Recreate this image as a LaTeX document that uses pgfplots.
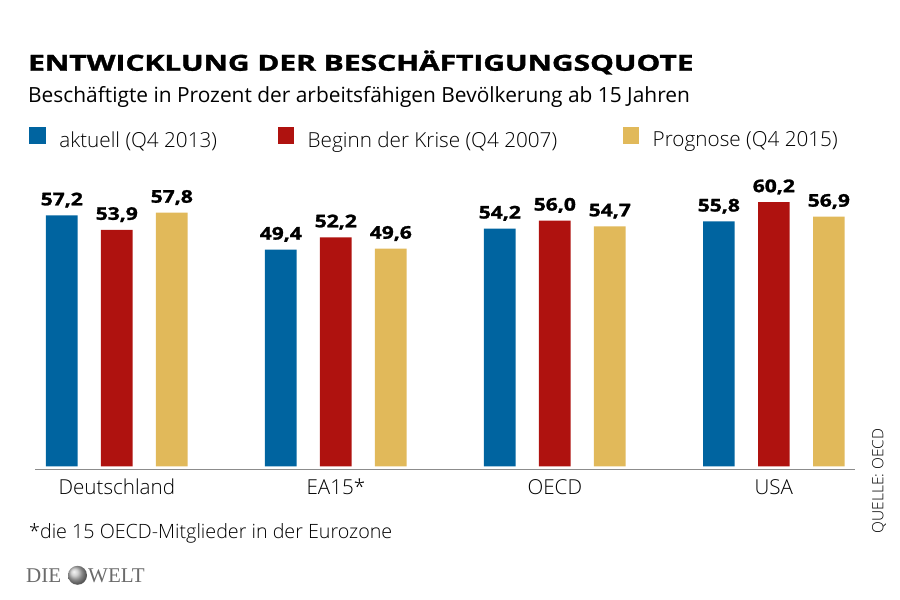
\documentclass[border=0pt]{standalone}
\usepackage{graphicx}
\usepackage{fontspec}
\setmainfont{Open Sans}
\newfontfamily\light{Open Sans Light}
\newfontfamily\heavy{Open Sans}[BoldFeatures={FakeBold=1.4}]
\newfontfamily\welt{Liberation Serif}
\usepackage{pgfplots}
\usepackage{pgfplotstable}
\pgfplotsset{compat=1.18}

\definecolor{cblue}{HTML}{0064A0}
\definecolor{cred}{HTML}{AF120F}
\definecolor{cgold}{HTML}{E1B95A}

% Beschaeftigungsquote in Prozent
\pgfplotstableread{
x y
0 57.2
1 49.4
2 54.2
3 55.8
}\aktuell
\pgfplotstableread{
x y
0 53.9
1 52.2
2 56.0
3 60.2
}\krise
\pgfplotstableread{
x y
0 57.8
1 49.6
2 54.7
3 56.9
}\prognose

\begin{document}
\begin{tikzpicture}[x=1pt,y=1pt]
\useasboundingbox (0,0) rectangle (900,600);
\begin{axis}[
  at={(35pt,130pt)}, anchor=south west,
  scale only axis, width=820pt, height=288.9pt,
  xmin=-0.3735, xmax=3.3705, ymin=-0.8, ymax=65,
  axis x line*=bottom, axis y line=none,
  x axis line style={draw=black!45, line width=1pt},
  ytick=\empty,
  xtick={0,1,2,3}, xticklabels={Deutschland,EA15*,OECD,USA},
  major tick length=0pt,
  xticklabel style={font=\light\fontsize{20.6}{22}\selectfont, anchor=base, yshift=-25pt},
  ybar, bar width=31.7pt,
  clip=false,
  nodes near coords={\scalebox{1.2}[1]{\pgfmathprintnumber[fixed,fixed zerofill,precision=1,use comma,assume math mode=true]{\pgfplotspointmeta}}},
  every node near coord/.append style={font=\heavy\bfseries\fontsize{17.5}{19}\selectfont, anchor=base, yshift=10pt, inner sep=0pt},
  legend columns=3,
  legend cell align=left,
  legend style={at={(axis description cs:-0.00695,1.1492)}, anchor=west,
    draw=none, fill=none, inner sep=0pt, outer sep=0pt, column sep=0pt,
    font=\light\fontsize{20.7}{22}\selectfont,
    nodes={inner sep=0pt}},
  legend image code/.code={\fill[#1] (0pt,-4pt) rectangle (16.7pt,12.7pt); \path (30pt,0pt);},
]
\addplot[fill=cblue, draw=none, bar shift=-55pt] table {\aktuell};
\addlegendentry{\makebox[218.4pt][l]{aktuell (Q4 2013)}}
\addplot[fill=cred, draw=none, bar shift=0pt] table {\krise};
\addlegendentry{\makebox[315pt][l]{Beginn der Krise (Q4 2007)}}
\addplot[fill=cgold, draw=none, bar shift=55pt] table {\prognose};
\addlegendentry{Prognose (Q4 2015)}
\end{axis}

\node[anchor=base west, inner sep=0pt] at (28,529.3)
  {\scalebox{1.36}[1]{\heavy\bfseries\fontsize{22}{26}\selectfont ENTWICKLUNG DER BESCHÄFTIGUNGSQUOTE}};
\node[anchor=base west, inner sep=0pt] at (28,497)
  {\fontsize{20.9}{23}\selectfont Beschäftigte in Prozent der arbeitsfähigen Bevölkerung ab 15 Jahren};
\node[anchor=base west, inner sep=0pt] at (29,61)
  {\light\fontsize{19.7}{22}\selectfont *die 15 OECD-Mitglieder in der Eurozone};
\node[rotate=90, inner sep=0pt] at (879,119)
  {\light\fontsize{15.5}{18}\selectfont QUELLE: OECD};
% Logo
\node[anchor=base west, inner sep=0pt, text=black!58] at (26,17.7)
  {\welt\fontsize{21}{24}\selectfont DIE};
\shade[ball color=black!25] (77.5,24.7) circle (9.5);
\node[anchor=base west, inner sep=0pt, text=black!58] at (88,17.7)
  {\welt\fontsize{21}{24}\selectfont WELT};
\end{tikzpicture}
\end{document}
